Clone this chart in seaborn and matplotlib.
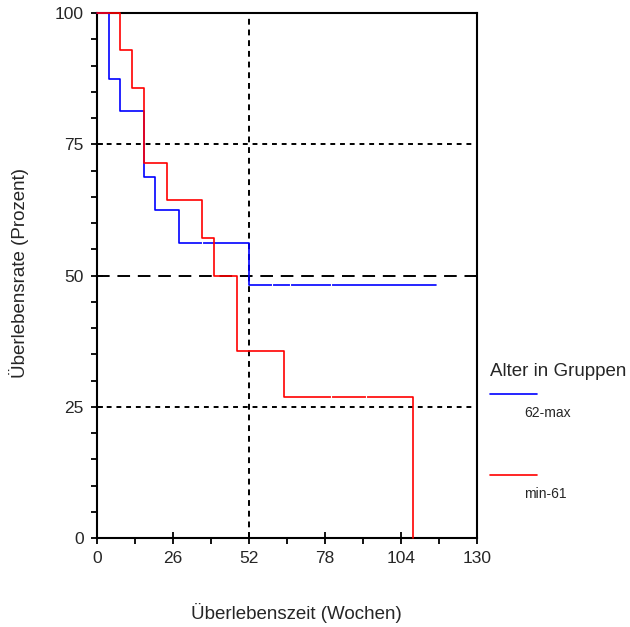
import numpy as np
import pandas as pd
import matplotlib
matplotlib.use("Agg")
import matplotlib.pyplot as plt
import seaborn as sns
from matplotlib.lines import Line2D
from matplotlib.ticker import MultipleLocator

sns.set_theme(style="white")
plt.rcParams['font.family'] = ['Liberation Sans', 'DejaVu Sans']

# ---- data ----
groups = ["62-max", "min-61"]
blue_times = [0, 4, 8, 16, 20, 28, 52, 116]
blue_surv = [100, 87.5, 81.25, 68.75, 62.5, 56.25, 48.2, 48.2]
red_times = [0, 8, 12, 16, 24, 36, 40, 48, 64, 108]
red_surv = [100, 92.86, 85.71, 71.43, 64.29, 57.14, 50.0, 35.7, 26.8, 0]
blue_censor_t = [36, 60, 66, 80]
blue_censor_s = [56.25, 48.2, 48.2, 48.2]
red_censor_t = [80, 92]
red_censor_s = [26.8, 26.8]
x_ticks = [0, 26, 52, 78, 104, 130]
y_ticks = [0, 25, 50, 75, 100]
colors = {"62-max": "#0000FF", "min-61": "#FF0000"}

df = pd.DataFrame({
    "Zeit": blue_times + red_times,
    "Rate": blue_surv + red_surv,
    "Gruppe": [groups[0]] * len(blue_times) + [groups[1]] * len(red_times),
})

fig = plt.figure(figsize=(6.3, 6.27), dpi=100)
ax = fig.add_axes([97 / 630, 1 - 538 / 627, 380 / 630, 525 / 627])

# reference lines
ax.axhline(75, color="black", lw=1.4, dashes=(2.5, 2.5), zorder=1)
ax.axhline(25, color="black", lw=1.4, dashes=(2.5, 2.5), zorder=1)
ax.axvline(52, color="black", lw=1.4, dashes=(3, 2.5), zorder=1)
ax.axhline(50, color="black", lw=1.4, dashes=(6.5, 4), zorder=1)

sns.lineplot(data=df, x="Zeit", y="Rate", hue="Gruppe", palette=colors,
             estimator=None, sort=False, drawstyle="steps-post",
             linewidth=1.2, legend=False, ax=ax, zorder=3)
for c in ax.lines[-2:]:
    c.set_clip_on(False)

ax.scatter(blue_censor_t, blue_censor_s, marker="|", s=12, color="white",
           linewidths=0.8, zorder=4)
ax.scatter(red_censor_t, red_censor_s, marker="|", s=12, color="white",
           linewidths=0.8, zorder=4)

ax.set_xlim(0, 130)
ax.set_ylim(0, 100)
ax.set_xticks(x_ticks)
ax.set_yticks(y_ticks)
ax.xaxis.set_minor_locator(MultipleLocator(13))
ax.yaxis.set_minor_locator(MultipleLocator(5))
ax.tick_params(axis="both", which="major", direction="inout", length=9,
               width=1.3, color="black", labelsize=12.5, pad=5,
               bottom=True, left=True)
ax.tick_params(axis="both", which="minor", direction="out", length=4.5,
               width=1.3, color="black", bottom=True, left=True)
ax.tick_params(axis="y", which="major", pad=5)
for s in ax.spines.values():
    s.set_color("black")
    s.set_linewidth(1.5)
    s.set_visible(True)

ax.set_xlabel("Überlebenszeit (Wochen)", fontsize=13.5)
ax.set_ylabel("Überlebensrate (Prozent)", fontsize=13.5)
ax.xaxis.set_label_coords((296 - 97) / 380, (538 - 603) / 525)
ax.yaxis.set_label_coords((29 - 97) / 380, (538 - 273) / 525)

# legend (outside right)
W, H = 630, 627
fig.text(490 / W, 1 - 371 / H, "Alter in Gruppen", fontsize=13.5,
         ha="left", va="center")
fig.add_artist(Line2D([490 / W, 537 / W], [1 - 394 / H, 1 - 394 / H],
                      color=colors["62-max"], lw=1.2))
fig.text(524 / W, 1 - 413 / H, "62-max", fontsize=10, ha="left", va="center")
fig.add_artist(Line2D([490 / W, 537 / W], [1 - 475 / H, 1 - 475 / H],
                      color=colors["min-61"], lw=1.2))
fig.text(524 / W, 1 - 494 / H, "min-61", fontsize=10, ha="left", va="center")

fig.savefig("out.png", dpi=100)
